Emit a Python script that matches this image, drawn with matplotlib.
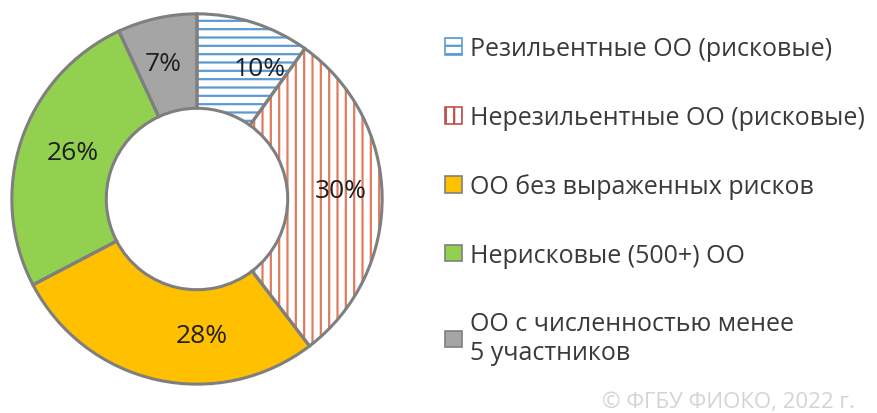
import numpy as np
import matplotlib.pyplot as plt
from matplotlib.patches import Patch

plt.rcParams['font.family'] = ['Open Sans', 'DejaVu Sans']
plt.rcParams['hatch.linewidth'] = 1.6

# data
labels = ['Резильентные ОО (рисковые)',
          'Нерезильентные ОО (рисковые)',
          'ОО без выраженных рисков',
          'Нерисковые (500+) ОО',
          'ОО с численностью менее\n5 участников']
shares = [10, 30, 28, 26, 7]
fills = ['white', 'white', '#FFC000', '#92D050', '#A5A5A5']
hatch_cols = ['#5B9BD5', '#E07B5F', '#FFC000', '#92D050', '#A5A5A5']
hatches = ['--', '||', None, None, None]

# label placement (degrees clockwise from top, radius) as in the source
lab_ang = [25.5, 86.8, 178, 290.6, 346]
lab_rad = [0.78, 0.777, 0.738, 0.714, 0.755]

W, H = 878, 414
fig = plt.figure(figsize=(W / 100, H / 100), dpi=100)
ax = fig.add_axes([10 / W, 27 / H, 374 / W, 374 / H])

# hatched fills (edgecolor drives hatch colour)
wedges, _ = ax.pie(shares, startangle=90, counterclock=False, radius=1,
                   wedgeprops=dict(width=0.51, linewidth=0))
for w, fc, hc, h in zip(wedges, fills, hatch_cols, hatches):
    w.set_facecolor(fc)
    w.set_edgecolor(hc)
    w.set_hatch(h)

# gray outlines on top
outl, _ = ax.pie(shares, startangle=90, counterclock=False, radius=1,
                 wedgeprops=dict(width=0.51, facecolor='none',
                                 edgecolor='#7F7F7F', linewidth=2.2))

# percentage labels
for v, a, r in zip(shares, lab_ang, lab_rad):
    t = np.deg2rad(90 - a)
    ax.text(r * np.cos(t), r * np.sin(t), f'{v}%', ha='center',
            va='center', fontsize=19, color='#1f1f1f')
ax.set_xlim(-1.01, 1.01)
ax.set_ylim(-1.01, 1.01)
ax.set_aspect('equal')

handles = [Patch(facecolor=fc, edgecolor=hc if h else '#7F7F7F', hatch=h,
                 linewidth=1.2)
           for fc, hc, h in zip(fills, hatch_cols, hatches)]
handles[0].set_edgecolor('#5B9BD5')
handles[1].set_edgecolor('#C0504D')
fig.legend(handles, labels, loc='upper left',
           bbox_to_anchor=(423 / W, 1 - 15 / H), frameon=False,
           fontsize=18, handlelength=0.65, handleheight=0.65,
           handletextpad=0.35, labelspacing=1.74, labelcolor='#3a3a3a')

fig.text(855 / W, 1 - 403 / H, '© ФГБУ ФИОКО, 2022 г.', ha='right',
         va='center', fontsize=16, color='#D4D4D4')

fig.savefig('out.png', dpi=100)
